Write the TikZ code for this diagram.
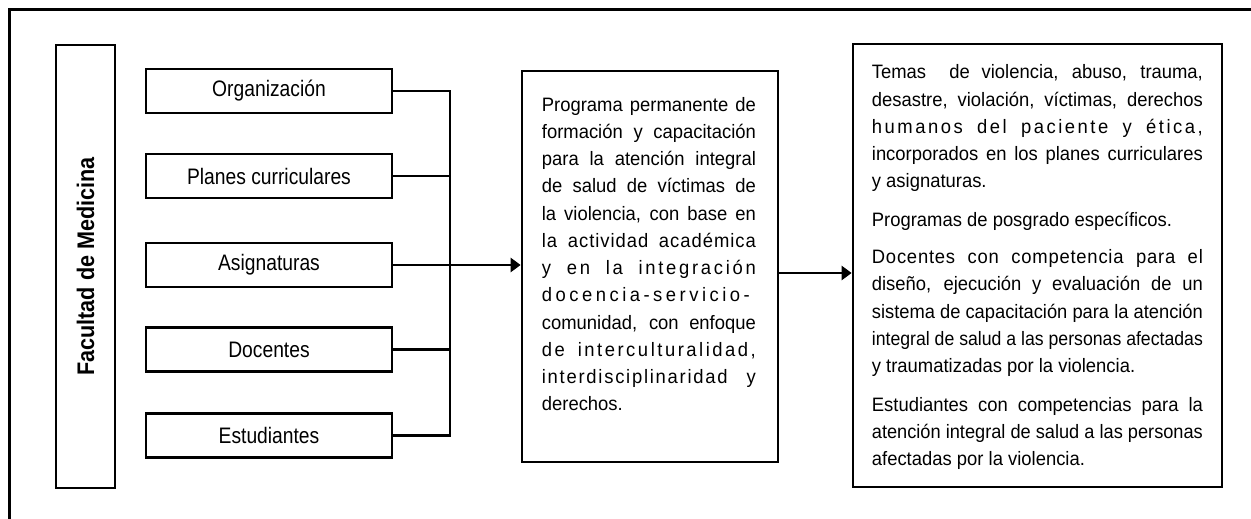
\documentclass[tikz,border=0pt]{standalone}
\usepackage{fontspec}
\setmainfont{Liberation Sans}[FakeStretch=0.95]
\newfontfamily\labelfont{Liberation Sans}[FakeStretch=0.86]
\newfontfamily\sidefont{Liberation Sans}[FakeStretch=0.9]
\usepackage{graphicx}
\usetikzlibrary{arrows.meta}
\newcommand\jl[1]{\setbox0=\hbox{#1}\ifdim\wd0>\linewidth\resizebox{\linewidth}{\height}{#1}\else\makebox[\linewidth][s]{#1}\fi\par}
\newcommand\plainline[1]{\mbox{#1}\par}
\tikzset{
  box/.style={draw, line width=2.7pt, minimum width=246pt, minimum height=44pt, inner sep=0pt, font=\labelfont\fontsize{22.4}{26}\selectfont},
  bigbox/.style={draw, line width=2.7pt, inner sep=0pt},
  conn/.style={line width=2.9pt},
  arr/.style={line width=2.9pt, -{Triangle[length=10pt,width=14pt]}},
  para/.style={anchor=base west, inner sep=0pt},
}
\begin{document}
\begin{tikzpicture}[x=1pt,y=-1pt]
\useasboundingbox (0,0) rectangle (1251,519);
\clip (0,0) rectangle (1251,519);
% outer frame
\draw[line width=3pt] (9,10) rectangle (1270,540);
% Facultad box
\node[bigbox, minimum width=59pt, minimum height=443pt] (fac) at (85.5,266.5) {};
\node[rotate=90, inner sep=0pt, font=\sidefont\bfseries\fontsize{24}{28}\selectfont] (factext) at (fac.center) {Facultad de Medicina};
% left boxes
\node[box] (org) at (269,91) {Organización};
\node[box] (plan) at (269,176) {Planes curriculares};
\node[box] (asig) at (269,265) {Asignaturas};
\node[box] (doc) at (269,349.5) {Docentes};
\node[box] (est) at (269,435.3) {Estudiantes};
\coordinate (bus) at (450,0);
% middle and right boxes
\node[bigbox, minimum width=256pt, minimum height=391pt] (mid) at (650,266.5) {};
\node[bigbox, minimum width=369pt, minimum height=443pt] (rbox) at (1037.5,265.5) {};
% connectors
\draw[conn] (org.east) -- (org.east -| bus) |- (est.east);
\draw[conn] (plan.east) -- (plan.east -| bus);
\draw[conn] (asig.east) -- (asig.east -| bus);
\draw[conn] (doc.east) -- (doc.east -| bus);
\draw[arr] (asig.east -| bus) -- (asig.east -| mid.west);
\draw[arr] ([yshift=-6.5pt]mid.east) -- ([yshift=-6.5pt]mid.east -| rbox.west);
% middle text
\node[para] (midtext) at (541.7,111) {\parbox[t]{214pt}{\fontsize{19.4}{27.27}\selectfont
\jl{Programa permanente de}
\jl{formación y capacitación}
\jl{para la atención integral}
\jl{de salud de víctimas de}
\jl{la violencia, con base en}
\jl{\addfontfeature{LetterSpace=5}la actividad académica}
\jl{\addfontfeature{LetterSpace=14}y en la integración}
\jl{\addfontfeature{LetterSpace=18}docencia-servicio-}
\jl{comunidad, con enfoque}
\jl{\addfontfeature{LetterSpace=13}de interculturalidad,}
\jl{\addfontfeature{LetterSpace=9}interdisciplinaridad y}
\plainline{derechos.}}};
% right text
\node[para] (rtext) at (871.7,79) {\parbox[t]{331pt}{\fontsize{19.4}{27.2}\selectfont
\jl{Temas~~de violencia, abuso, trauma,}
\jl{desastre, violación, víctimas, derechos}
\jl{\addfontfeature{LetterSpace=13}humanos del paciente y ética,}
\jl{incorporados en los planes curriculares}
\plainline{y asignaturas.}
\vspace{11.5pt}
\plainline{Programas de posgrado específicos.}
\vspace{10pt}
\jl{\addfontfeature{LetterSpace=4}Docentes con competencia para el}
\jl{diseño, ejecución y evaluación de un}
\jl{sistema de capacitación para la atención}
\jl{integral de salud a las personas afectadas}
\plainline{y traumatizadas por la violencia.}
\vspace{11.5pt}
\jl{Estudiantes con competencias para la}
\jl{atención integral de salud a las personas}
\plainline{afectadas por la violencia.}}};
\end{tikzpicture}
\end{document}
